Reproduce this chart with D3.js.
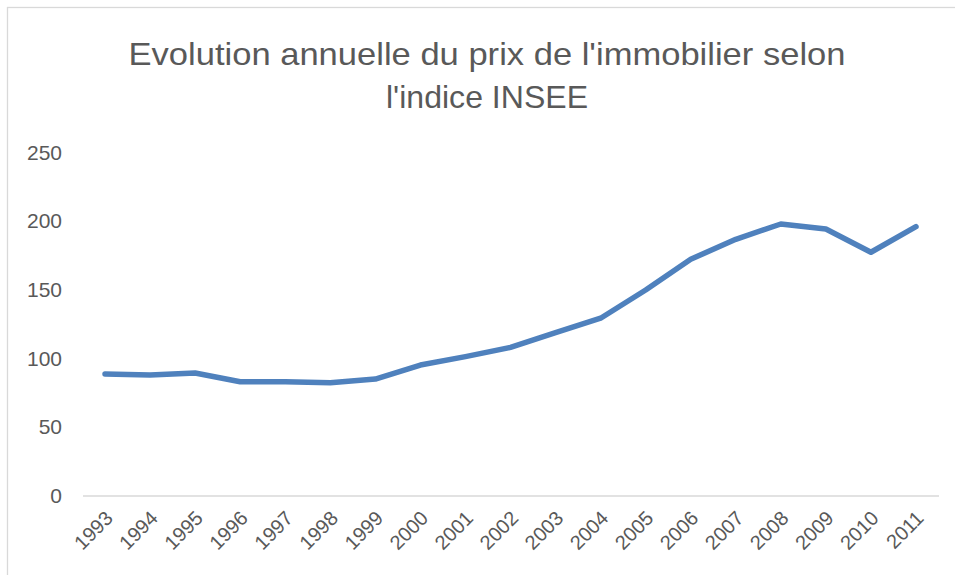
<!DOCTYPE html>
<html>
<head>
<meta charset="utf-8">
<title>Evolution annuelle du prix de l'immobilier</title>
<style>
    body { margin: 0; background: #fff; }
    svg { font-family: "Liberation Sans", Arial, sans-serif; }
</style>
</head>
<body>
<svg width="955" height="575"></svg>
<script src="https://d3js.org/d3.v7.min.js"></script>
<script>

    var years = ["1993", "1994", "1995", "1996", "1997", "1998", "1999", "2000", "2001", "2002",
        "2003", "2004", "2005", "2006", "2007", "2008", "2009", "2010", "2011"];
    var indice = [88.6, 87.8, 89.3, 82.9, 82.9, 82.2, 84.9, 95.1, 101.2, 108.0,
        118.7, 129.2, 149.8, 172.2, 186.7, 197.9, 194.2, 177.3, 195.9];
    var yTicks = [0, 50, 100, 150, 200, 250];
    var titleLines = ["Evolution annuelle du prix de l'immobilier selon", "l'indice INSEE"];

    var svg = d3.select("svg");

    // chart frame
    svg.append("rect")
        .attr("x", 7.5).attr("y", 7.5)
        .attr("width", 962).attr("height", 600)
        .attr("fill", "#fff")
        .attr("stroke", "#d9d9d9")
        .attr("stroke-width", 1.3);

    var x = d3.scaleBand()
        .domain(years)
        .range([82.5, 938.5]);

    var y = d3.scaleLinear()
        .domain([0, 250])
        .range([495.5, 152.5]);

    // title, squeezed a bit to get the narrow look of the original
    var title = svg.append("g");
    var titleWidths = [717, 202];
    titleLines.forEach(function(t, i) {
        title.append("text")
            .attr("x", 487)
            .attr("y", 65 + i * 43)
            .attr("text-anchor", "middle")
            .attr("fill", "#595959")
            .style("font-size", "32px")
            .attr("textLength", titleWidths[i])
            .attr("lengthAdjust", "spacingAndGlyphs")
            .text(t);
    });

    // y axis labels (no gridlines)
    var yAxis = svg.append("g")
        .attr("transform", "translate(62,0)")
        .call(d3.axisLeft(y).tickValues(yTicks).tickSize(0).tickPadding(0));
    yAxis.select(".domain").remove();
    yAxis.selectAll("text")
        .attr("fill", "#595959")
        .style("font-size", "21px")
        .style("font-family", "'Liberation Sans', sans-serif");

    // x axis
    var xAxis = svg.append("g")
        .attr("transform", "translate(0," + y(0) + ")")
        .call(d3.axisBottom(x).tickSize(0).tickPadding(0));
    xAxis.select(".domain")
        .attr("stroke", "#d9d9d9")
        .attr("stroke-width", 1.5);
    xAxis.selectAll("text")
        .attr("fill", "#595959")
        .style("font-size", "20px")
        .style("font-family", "'Liberation Sans', sans-serif")
        .attr("text-anchor", "end")
        .attr("dy", null)
        .attr("y", 0)
        .attr("transform", "translate(9,24) rotate(-45)");

    // line
    var line = d3.line()
        .x(function(d, i) { return x(years[i]) + x.bandwidth() / 2; })
        .y(function(d) { return y(d); });

    svg.append("path")
        .datum(indice)
        .attr("fill", "none")
        .attr("stroke", "#4f81bd")
        .attr("stroke-width", 5.5)
        .attr("stroke-linejoin", "round")
        .attr("stroke-linecap", "round")
        .attr("d", line);

</script>
</body>
</html>
